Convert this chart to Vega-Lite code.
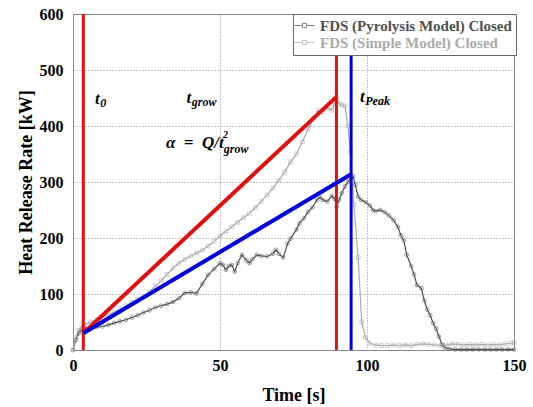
{
  "$schema": "https://vega.github.io/schema/vega-lite/v6.json",
  "width": 441,
  "height": 336,
  "autosize": {"type": "none"},
  "padding": {"left": 73, "top": 14, "right": 19, "bottom": 57},
  "background": "white",
  "config": {
    "font": "Liberation Serif",
    "view": {"stroke": "#888888", "strokeWidth": 1},
    "axis": {
      "labelFont": "Liberation Serif", "labelFontWeight": "bold", "labelFontSize": 16, "labelColor": "#000000",
      "titleFont": "Liberation Serif", "titleFontWeight": "bold", "titleFontSize": 18, "titleColor": "#000000",
      "domain": false, "ticks": false,
      "grid": true, "gridColor": "#888888", "gridDash": [1, 2], "gridWidth": 1
    }
  },
  "datasets": {
    "series": [
      {"t": 0, "hrr": 0, "series": "FDS (Pyrolysis Model) Closed"},
      {"t": 1, "hrr": 18, "series": "FDS (Pyrolysis Model) Closed"},
      {"t": 2, "hrr": 30, "series": "FDS (Pyrolysis Model) Closed"},
      {"t": 3, "hrr": 36, "series": "FDS (Pyrolysis Model) Closed"},
      {"t": 4, "hrr": 39, "series": "FDS (Pyrolysis Model) Closed"},
      {"t": 6, "hrr": 40, "series": "FDS (Pyrolysis Model) Closed"},
      {"t": 8, "hrr": 41, "series": "FDS (Pyrolysis Model) Closed"},
      {"t": 10, "hrr": 42, "series": "FDS (Pyrolysis Model) Closed"},
      {"t": 12, "hrr": 45, "series": "FDS (Pyrolysis Model) Closed"},
      {"t": 14, "hrr": 48, "series": "FDS (Pyrolysis Model) Closed"},
      {"t": 16, "hrr": 51, "series": "FDS (Pyrolysis Model) Closed"},
      {"t": 18, "hrr": 54, "series": "FDS (Pyrolysis Model) Closed"},
      {"t": 20, "hrr": 58, "series": "FDS (Pyrolysis Model) Closed"},
      {"t": 22, "hrr": 62, "series": "FDS (Pyrolysis Model) Closed"},
      {"t": 24, "hrr": 67, "series": "FDS (Pyrolysis Model) Closed"},
      {"t": 26, "hrr": 71, "series": "FDS (Pyrolysis Model) Closed"},
      {"t": 28, "hrr": 76, "series": "FDS (Pyrolysis Model) Closed"},
      {"t": 30, "hrr": 79, "series": "FDS (Pyrolysis Model) Closed"},
      {"t": 32, "hrr": 82, "series": "FDS (Pyrolysis Model) Closed"},
      {"t": 34, "hrr": 86, "series": "FDS (Pyrolysis Model) Closed"},
      {"t": 36, "hrr": 92, "series": "FDS (Pyrolysis Model) Closed"},
      {"t": 38, "hrr": 102, "series": "FDS (Pyrolysis Model) Closed"},
      {"t": 40, "hrr": 103, "series": "FDS (Pyrolysis Model) Closed"},
      {"t": 42, "hrr": 101, "series": "FDS (Pyrolysis Model) Closed"},
      {"t": 44, "hrr": 118, "series": "FDS (Pyrolysis Model) Closed"},
      {"t": 46, "hrr": 134, "series": "FDS (Pyrolysis Model) Closed"},
      {"t": 48, "hrr": 145, "series": "FDS (Pyrolysis Model) Closed"},
      {"t": 50, "hrr": 155, "series": "FDS (Pyrolysis Model) Closed"},
      {"t": 51, "hrr": 152, "series": "FDS (Pyrolysis Model) Closed"},
      {"t": 52, "hrr": 143, "series": "FDS (Pyrolysis Model) Closed"},
      {"t": 53, "hrr": 150, "series": "FDS (Pyrolysis Model) Closed"},
      {"t": 54, "hrr": 152, "series": "FDS (Pyrolysis Model) Closed"},
      {"t": 55, "hrr": 140, "series": "FDS (Pyrolysis Model) Closed"},
      {"t": 56, "hrr": 155, "series": "FDS (Pyrolysis Model) Closed"},
      {"t": 57.5, "hrr": 170, "series": "FDS (Pyrolysis Model) Closed"},
      {"t": 59, "hrr": 160, "series": "FDS (Pyrolysis Model) Closed"},
      {"t": 60, "hrr": 155, "series": "FDS (Pyrolysis Model) Closed"},
      {"t": 61, "hrr": 162, "series": "FDS (Pyrolysis Model) Closed"},
      {"t": 62.5, "hrr": 170, "series": "FDS (Pyrolysis Model) Closed"},
      {"t": 64, "hrr": 168, "series": "FDS (Pyrolysis Model) Closed"},
      {"t": 66, "hrr": 167, "series": "FDS (Pyrolysis Model) Closed"},
      {"t": 68, "hrr": 172, "series": "FDS (Pyrolysis Model) Closed"},
      {"t": 69, "hrr": 179, "series": "FDS (Pyrolysis Model) Closed"},
      {"t": 70, "hrr": 172, "series": "FDS (Pyrolysis Model) Closed"},
      {"t": 71.5, "hrr": 165, "series": "FDS (Pyrolysis Model) Closed"},
      {"t": 73, "hrr": 190, "series": "FDS (Pyrolysis Model) Closed"},
      {"t": 74, "hrr": 199, "series": "FDS (Pyrolysis Model) Closed"},
      {"t": 76, "hrr": 215, "series": "FDS (Pyrolysis Model) Closed"},
      {"t": 77, "hrr": 226, "series": "FDS (Pyrolysis Model) Closed"},
      {"t": 78.5, "hrr": 235, "series": "FDS (Pyrolysis Model) Closed"},
      {"t": 80, "hrr": 247, "series": "FDS (Pyrolysis Model) Closed"},
      {"t": 81.5, "hrr": 255, "series": "FDS (Pyrolysis Model) Closed"},
      {"t": 83, "hrr": 268, "series": "FDS (Pyrolysis Model) Closed"},
      {"t": 84, "hrr": 273, "series": "FDS (Pyrolysis Model) Closed"},
      {"t": 85, "hrr": 268, "series": "FDS (Pyrolysis Model) Closed"},
      {"t": 86.5, "hrr": 265, "series": "FDS (Pyrolysis Model) Closed"},
      {"t": 88, "hrr": 275, "series": "FDS (Pyrolysis Model) Closed"},
      {"t": 89, "hrr": 270, "series": "FDS (Pyrolysis Model) Closed"},
      {"t": 89.7, "hrr": 256, "series": "FDS (Pyrolysis Model) Closed"},
      {"t": 90.5, "hrr": 268, "series": "FDS (Pyrolysis Model) Closed"},
      {"t": 91.4, "hrr": 280, "series": "FDS (Pyrolysis Model) Closed"},
      {"t": 92.5, "hrr": 292, "series": "FDS (Pyrolysis Model) Closed"},
      {"t": 93.5, "hrr": 300, "series": "FDS (Pyrolysis Model) Closed"},
      {"t": 94.5, "hrr": 308, "series": "FDS (Pyrolysis Model) Closed"},
      {"t": 95.3, "hrr": 310, "series": "FDS (Pyrolysis Model) Closed"},
      {"t": 96, "hrr": 295, "series": "FDS (Pyrolysis Model) Closed"},
      {"t": 97, "hrr": 274, "series": "FDS (Pyrolysis Model) Closed"},
      {"t": 98, "hrr": 268, "series": "FDS (Pyrolysis Model) Closed"},
      {"t": 99.5, "hrr": 264, "series": "FDS (Pyrolysis Model) Closed"},
      {"t": 101, "hrr": 258, "series": "FDS (Pyrolysis Model) Closed"},
      {"t": 102, "hrr": 250, "series": "FDS (Pyrolysis Model) Closed"},
      {"t": 103, "hrr": 248, "series": "FDS (Pyrolysis Model) Closed"},
      {"t": 104.5, "hrr": 250, "series": "FDS (Pyrolysis Model) Closed"},
      {"t": 106, "hrr": 246, "series": "FDS (Pyrolysis Model) Closed"},
      {"t": 107.5, "hrr": 240, "series": "FDS (Pyrolysis Model) Closed"},
      {"t": 109, "hrr": 232, "series": "FDS (Pyrolysis Model) Closed"},
      {"t": 110.5, "hrr": 220, "series": "FDS (Pyrolysis Model) Closed"},
      {"t": 111.5, "hrr": 205, "series": "FDS (Pyrolysis Model) Closed"},
      {"t": 112.5, "hrr": 196, "series": "FDS (Pyrolysis Model) Closed"},
      {"t": 113.5, "hrr": 170, "series": "FDS (Pyrolysis Model) Closed"},
      {"t": 115, "hrr": 150, "series": "FDS (Pyrolysis Model) Closed"},
      {"t": 116, "hrr": 135, "series": "FDS (Pyrolysis Model) Closed"},
      {"t": 117, "hrr": 116, "series": "FDS (Pyrolysis Model) Closed"},
      {"t": 118.5, "hrr": 110, "series": "FDS (Pyrolysis Model) Closed"},
      {"t": 119.5, "hrr": 88, "series": "FDS (Pyrolysis Model) Closed"},
      {"t": 120.5, "hrr": 72, "series": "FDS (Pyrolysis Model) Closed"},
      {"t": 121.5, "hrr": 62, "series": "FDS (Pyrolysis Model) Closed"},
      {"t": 122.5, "hrr": 48, "series": "FDS (Pyrolysis Model) Closed"},
      {"t": 123.5, "hrr": 38, "series": "FDS (Pyrolysis Model) Closed"},
      {"t": 124.5, "hrr": 24, "series": "FDS (Pyrolysis Model) Closed"},
      {"t": 125.5, "hrr": 10, "series": "FDS (Pyrolysis Model) Closed"},
      {"t": 126.5, "hrr": 4, "series": "FDS (Pyrolysis Model) Closed"},
      {"t": 128, "hrr": 2, "series": "FDS (Pyrolysis Model) Closed"},
      {"t": 130, "hrr": 1, "series": "FDS (Pyrolysis Model) Closed"},
      {"t": 132, "hrr": 1, "series": "FDS (Pyrolysis Model) Closed"},
      {"t": 134, "hrr": 1, "series": "FDS (Pyrolysis Model) Closed"},
      {"t": 136, "hrr": 1, "series": "FDS (Pyrolysis Model) Closed"},
      {"t": 138, "hrr": 1, "series": "FDS (Pyrolysis Model) Closed"},
      {"t": 140, "hrr": 1, "series": "FDS (Pyrolysis Model) Closed"},
      {"t": 142, "hrr": 1, "series": "FDS (Pyrolysis Model) Closed"},
      {"t": 144, "hrr": 1, "series": "FDS (Pyrolysis Model) Closed"},
      {"t": 146, "hrr": 1, "series": "FDS (Pyrolysis Model) Closed"},
      {"t": 148, "hrr": 1, "series": "FDS (Pyrolysis Model) Closed"},
      {"t": 150, "hrr": 1, "series": "FDS (Pyrolysis Model) Closed"},
      {"t": 0, "hrr": 0, "series": "FDS (Simple Model) Closed"},
      {"t": 1, "hrr": 22, "series": "FDS (Simple Model) Closed"},
      {"t": 2, "hrr": 35, "series": "FDS (Simple Model) Closed"},
      {"t": 3, "hrr": 42, "series": "FDS (Simple Model) Closed"},
      {"t": 4, "hrr": 45, "series": "FDS (Simple Model) Closed"},
      {"t": 6, "hrr": 50, "series": "FDS (Simple Model) Closed"},
      {"t": 8, "hrr": 54, "series": "FDS (Simple Model) Closed"},
      {"t": 10, "hrr": 58, "series": "FDS (Simple Model) Closed"},
      {"t": 12, "hrr": 63, "series": "FDS (Simple Model) Closed"},
      {"t": 14, "hrr": 68, "series": "FDS (Simple Model) Closed"},
      {"t": 16, "hrr": 73, "series": "FDS (Simple Model) Closed"},
      {"t": 18, "hrr": 79, "series": "FDS (Simple Model) Closed"},
      {"t": 20, "hrr": 85, "series": "FDS (Simple Model) Closed"},
      {"t": 22, "hrr": 90, "series": "FDS (Simple Model) Closed"},
      {"t": 24, "hrr": 96, "series": "FDS (Simple Model) Closed"},
      {"t": 26, "hrr": 104, "series": "FDS (Simple Model) Closed"},
      {"t": 28, "hrr": 114, "series": "FDS (Simple Model) Closed"},
      {"t": 30, "hrr": 124, "series": "FDS (Simple Model) Closed"},
      {"t": 32, "hrr": 135, "series": "FDS (Simple Model) Closed"},
      {"t": 34, "hrr": 146, "series": "FDS (Simple Model) Closed"},
      {"t": 36, "hrr": 155, "series": "FDS (Simple Model) Closed"},
      {"t": 38, "hrr": 162, "series": "FDS (Simple Model) Closed"},
      {"t": 40, "hrr": 168, "series": "FDS (Simple Model) Closed"},
      {"t": 42, "hrr": 173, "series": "FDS (Simple Model) Closed"},
      {"t": 44, "hrr": 178, "series": "FDS (Simple Model) Closed"},
      {"t": 46, "hrr": 186, "series": "FDS (Simple Model) Closed"},
      {"t": 48, "hrr": 194, "series": "FDS (Simple Model) Closed"},
      {"t": 50, "hrr": 203, "series": "FDS (Simple Model) Closed"},
      {"t": 52, "hrr": 212, "series": "FDS (Simple Model) Closed"},
      {"t": 54, "hrr": 220, "series": "FDS (Simple Model) Closed"},
      {"t": 56, "hrr": 228, "series": "FDS (Simple Model) Closed"},
      {"t": 58, "hrr": 236, "series": "FDS (Simple Model) Closed"},
      {"t": 60, "hrr": 244, "series": "FDS (Simple Model) Closed"},
      {"t": 62, "hrr": 254, "series": "FDS (Simple Model) Closed"},
      {"t": 64, "hrr": 265, "series": "FDS (Simple Model) Closed"},
      {"t": 66, "hrr": 277, "series": "FDS (Simple Model) Closed"},
      {"t": 68, "hrr": 289, "series": "FDS (Simple Model) Closed"},
      {"t": 70, "hrr": 303, "series": "FDS (Simple Model) Closed"},
      {"t": 72, "hrr": 318, "series": "FDS (Simple Model) Closed"},
      {"t": 74, "hrr": 336, "series": "FDS (Simple Model) Closed"},
      {"t": 76, "hrr": 350, "series": "FDS (Simple Model) Closed"},
      {"t": 78, "hrr": 372, "series": "FDS (Simple Model) Closed"},
      {"t": 80, "hrr": 395, "series": "FDS (Simple Model) Closed"},
      {"t": 82, "hrr": 415, "series": "FDS (Simple Model) Closed"},
      {"t": 83.5, "hrr": 428, "series": "FDS (Simple Model) Closed"},
      {"t": 85, "hrr": 426, "series": "FDS (Simple Model) Closed"},
      {"t": 86.5, "hrr": 432, "series": "FDS (Simple Model) Closed"},
      {"t": 88, "hrr": 428, "series": "FDS (Simple Model) Closed"},
      {"t": 89, "hrr": 440, "series": "FDS (Simple Model) Closed"},
      {"t": 89.8, "hrr": 450, "series": "FDS (Simple Model) Closed"},
      {"t": 90.5, "hrr": 440, "series": "FDS (Simple Model) Closed"},
      {"t": 91.5, "hrr": 437, "series": "FDS (Simple Model) Closed"},
      {"t": 92.5, "hrr": 436, "series": "FDS (Simple Model) Closed"},
      {"t": 93.5, "hrr": 400, "series": "FDS (Simple Model) Closed"},
      {"t": 94.3, "hrr": 354, "series": "FDS (Simple Model) Closed"},
      {"t": 95.5, "hrr": 260, "series": "FDS (Simple Model) Closed"},
      {"t": 97, "hrr": 165, "series": "FDS (Simple Model) Closed"},
      {"t": 98.2, "hrr": 50, "series": "FDS (Simple Model) Closed"},
      {"t": 99.5, "hrr": 22, "series": "FDS (Simple Model) Closed"},
      {"t": 101, "hrr": 12, "series": "FDS (Simple Model) Closed"},
      {"t": 103, "hrr": 9, "series": "FDS (Simple Model) Closed"},
      {"t": 105, "hrr": 8, "series": "FDS (Simple Model) Closed"},
      {"t": 107, "hrr": 8, "series": "FDS (Simple Model) Closed"},
      {"t": 109, "hrr": 9, "series": "FDS (Simple Model) Closed"},
      {"t": 111, "hrr": 8, "series": "FDS (Simple Model) Closed"},
      {"t": 113, "hrr": 9, "series": "FDS (Simple Model) Closed"},
      {"t": 115, "hrr": 8, "series": "FDS (Simple Model) Closed"},
      {"t": 117, "hrr": 10, "series": "FDS (Simple Model) Closed"},
      {"t": 119, "hrr": 11, "series": "FDS (Simple Model) Closed"},
      {"t": 121, "hrr": 10, "series": "FDS (Simple Model) Closed"},
      {"t": 123, "hrr": 9, "series": "FDS (Simple Model) Closed"},
      {"t": 125, "hrr": 8, "series": "FDS (Simple Model) Closed"},
      {"t": 127, "hrr": 9, "series": "FDS (Simple Model) Closed"},
      {"t": 129, "hrr": 11, "series": "FDS (Simple Model) Closed"},
      {"t": 131, "hrr": 10, "series": "FDS (Simple Model) Closed"},
      {"t": 133, "hrr": 9, "series": "FDS (Simple Model) Closed"},
      {"t": 135, "hrr": 10, "series": "FDS (Simple Model) Closed"},
      {"t": 137, "hrr": 9, "series": "FDS (Simple Model) Closed"},
      {"t": 139, "hrr": 10, "series": "FDS (Simple Model) Closed"},
      {"t": 141, "hrr": 9, "series": "FDS (Simple Model) Closed"},
      {"t": 143, "hrr": 10, "series": "FDS (Simple Model) Closed"},
      {"t": 145, "hrr": 9, "series": "FDS (Simple Model) Closed"},
      {"t": 147, "hrr": 11, "series": "FDS (Simple Model) Closed"},
      {"t": 149, "hrr": 12, "series": "FDS (Simple Model) Closed"},
      {"t": 150, "hrr": 13, "series": "FDS (Simple Model) Closed"}
    ],
    "redDiag": [{"t": 3.5, "hrr": 30}, {"t": 89.6, "hrr": 452}],
    "blueDiag": [{"t": 3.5, "hrr": 30}, {"t": 94.6, "hrr": 314}],
    "redV": [{"t": 3.5}, {"t": 89.6}],
    "blueV": [{"t": 94.6}],
    "mainText": [
      {"t": 7.5, "hrr": 439, "label": "t"},
      {"t": 38.6, "hrr": 441, "label": "t"},
      {"t": 31.6, "hrr": 360, "label": "α\u2002=\u2002Q/t"},
      {"t": 97.6, "hrr": 443, "label": "t"}
    ],
    "subText": [
      {"t": 9.3, "hrr": 434, "label": "0"},
      {"t": 40.4, "hrr": 436, "label": "grow"},
      {"t": 51.3, "hrr": 352, "label": "grow"},
      {"t": 99.4, "hrr": 437, "label": "Peak"}
    ],
    "supText": [
      {"t": 51.0, "hrr": 378, "label": "2"}
    ]
  },
  "layer": [
    {
      "data": {"name": "series"},
      "mark": {"type": "line", "strokeWidth": 1.2},
      "encoding": {
        "x": {"field": "t", "type": "quantitative", "scale": {"domain": [0, 150], "nice": false},
              "axis": {"values": [0, 50, 100, 150], "title": "Time [s]", "labelPadding": 7, "titlePadding": 13, "labelFlush": false}},
        "y": {"field": "hrr", "type": "quantitative", "scale": {"domain": [0, 600], "nice": false},
              "axis": {"values": [0, 100, 200, 300, 400, 500, 600], "title": "Heat Release Rate [kW]", "labelPadding": 10, "titlePadding": 4, "labelFlush": false}},
        "color": {"field": "series", "type": "nominal",
          "scale": {"domain": ["FDS (Pyrolysis Model) Closed", "FDS (Simple Model) Closed"], "range": ["#505050", "#ababab"]},
          "legend": {
            "title": null, "orient": "none", "legendX": 220, "legendY": 0,
            "strokeColor": "#666666", "fillColor": "white", "padding": 4,
            "labelFont": "Liberation Serif", "labelFontWeight": "bold", "labelFontSize": 15, "labelLimit": 400,
            "labelColor": {"expr": "datum.label == 'FDS (Pyrolysis Model) Closed' ? '#505050' : '#ababab'"},
            "symbolType": "M-1.7,0H-0.35M0.35,0H1.7M-0.35,-0.35H0.35V0.35H-0.35Z",
            "symbolSize": 144, "symbolStrokeWidth": 1, "symbolFillColor": "transparent",
            "labelOffset": 8, "rowPadding": 1
          }
        }
      }
    },
    {
      "data": {"name": "series"},
      "transform": [{"filter": "datum.series == 'FDS (Pyrolysis Model) Closed'"}],
      "mark": {"type": "point", "shape": "circle", "filled": false, "size": 14, "strokeWidth": 0.8},
      "encoding": {
        "x": {"field": "t", "type": "quantitative"},
        "y": {"field": "hrr", "type": "quantitative"},
        "color": {"field": "series", "type": "nominal"}
      }
    },
    {
      "data": {"name": "series"},
      "transform": [{"filter": "datum.series == 'FDS (Simple Model) Closed'"}],
      "mark": {"type": "point", "shape": "square", "filled": false, "size": 14, "strokeWidth": 0.8},
      "encoding": {
        "x": {"field": "t", "type": "quantitative"},
        "y": {"field": "hrr", "type": "quantitative"},
        "color": {"field": "series", "type": "nominal"}
      }
    },
    {
      "data": {"name": "redV"},
      "mark": {"type": "rule", "color": "#e01010", "strokeWidth": 3},
      "encoding": {"x": {"field": "t", "type": "quantitative"}}
    },
    {
      "data": {"name": "blueV"},
      "mark": {"type": "rule", "color": "#0000dd", "strokeWidth": 3},
      "encoding": {"x": {"field": "t", "type": "quantitative"}}
    },
    {
      "data": {"name": "redDiag"},
      "mark": {"type": "line", "color": "#e01010", "strokeWidth": 4},
      "encoding": {"x": {"field": "t", "type": "quantitative"}, "y": {"field": "hrr", "type": "quantitative"}}
    },
    {
      "data": {"name": "blueDiag"},
      "mark": {"type": "line", "color": "#0000dd", "strokeWidth": 4},
      "encoding": {"x": {"field": "t", "type": "quantitative"}, "y": {"field": "hrr", "type": "quantitative"}}
    },
    {
      "data": {"name": "mainText"},
      "mark": {"type": "text", "align": "left", "baseline": "alphabetic", "font": "Liberation Serif", "fontSize": 17, "fontWeight": "bold", "fontStyle": "italic", "color": "#000000"},
      "encoding": {"x": {"field": "t", "type": "quantitative"}, "y": {"field": "hrr", "type": "quantitative"}, "text": {"field": "label"}}
    },
    {
      "data": {"name": "subText"},
      "mark": {"type": "text", "align": "left", "baseline": "alphabetic", "font": "Liberation Serif", "fontSize": 12, "fontWeight": "bold", "fontStyle": "italic", "color": "#000000"},
      "encoding": {"x": {"field": "t", "type": "quantitative"}, "y": {"field": "hrr", "type": "quantitative"}, "text": {"field": "label"}}
    },
    {
      "data": {"name": "supText"},
      "mark": {"type": "text", "align": "left", "baseline": "alphabetic", "font": "Liberation Serif", "fontSize": 10, "fontWeight": "bold", "fontStyle": "italic", "color": "#000000"},
      "encoding": {"x": {"field": "t", "type": "quantitative"}, "y": {"field": "hrr", "type": "quantitative"}, "text": {"field": "label"}}
    }
  ]
}
